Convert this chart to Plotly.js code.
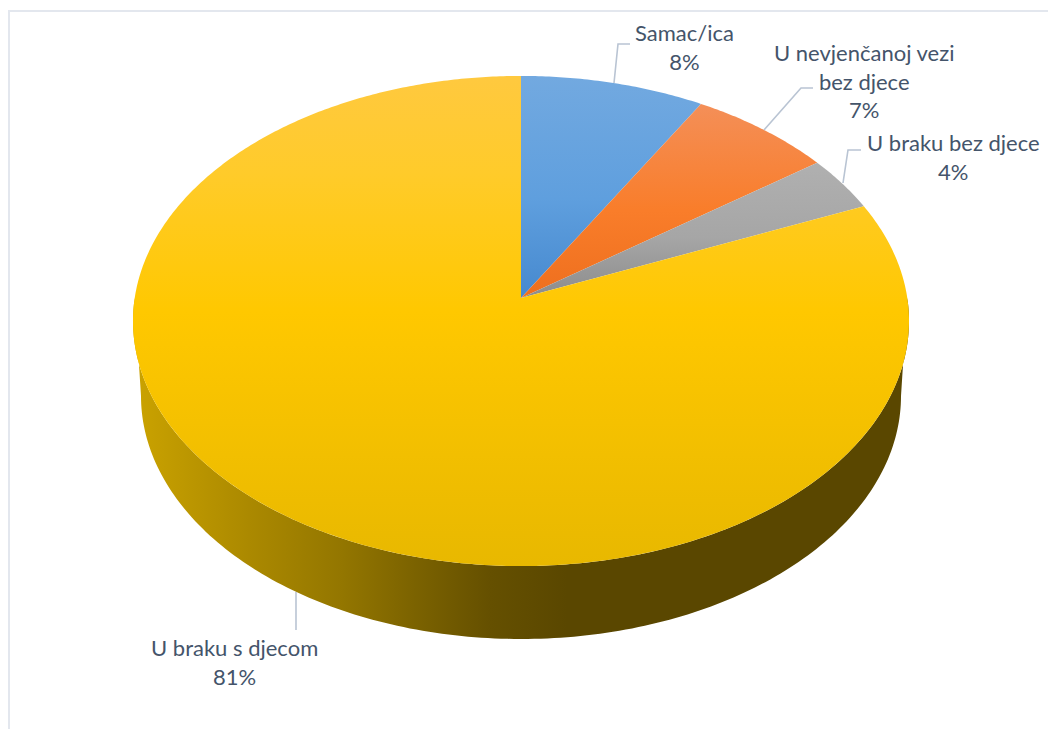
<!DOCTYPE html>
<html>
<head>
<meta charset="utf-8">
<script src="https://cdn.plot.ly/plotly-3.0.1.min.js"></script>
<style>html,body{margin:0;padding:0;background:#fff}#chart{width:1048px;height:729px}</style>
</head>
<body>
<div id="chart"></div>
<script>
const categories = ["Samac/ica", "U nevjenčanoj vezi<br>bez djece", "U braku bez djece", "U braku s djecom"];
const values = [8.4, 6.6, 3.6, 81.4];
const sliceTop = ["#72a9e0", "#f48f58", "#b0b0b0", "#ffc93f"];
const sliceMiddle = ["#5f9fde", "#f97d2a", "#a6a6a6", "#ffc800"];
const sliceBottom = ["#4689cf", "#ee6f1e", "#8c8c8c", "#e8b800"];
const labelX = [684, 864, 953, 234];
const labelY = [46.5, 81, 156.5, 661.5];
const leaders = [
  "M614,83 L618,44 L630,44",
  "M764,130 L801,88 L813,88",
  "M843,183 L848,150 L861,150",
  "M296,592 L296,630"
];

// Projection of the tilted disc onto the page
const apexX = 521, apexY = 298, scaleX = 386.3, scaleY = 242.9, persp = 0.0939;
const wallCx = 521, wallCy = 396, wallRx = 380, wallRy = 243;

function project(angle) {
  const u = Math.sin(angle), v = Math.cos(angle), w = 1 + persp * v;
  return [apexX + scaleX * u / w, apexY - scaleY * v / w];
}

const traces = [];

// Side wall: lower half of the top rim (right to left), then lower half of the base (left to right)
const wx = [], wy = [];
for (let d = -90; d <= 90; d += 1) {
  const p = project(Math.PI + d * Math.PI / 180);
  wx.push(p[0]); wy.push(p[1]);
}
for (let d = -90; d <= 90; d += 1) {
  const a = d * Math.PI / 180;
  wx.push(wallCx + wallRx * Math.sin(a));
  wy.push(wallCy + wallRy * Math.cos(a));
}
traces.push({
  type: "scatter", mode: "none", x: wx, y: wy, fill: "toself",
  fillgradient: {
    type: "horizontal", start: 133, stop: 909,
    colorscale: [[0, "#cba300"], [0.15, "#ab8900"], [0.27, "#937600"], [0.36, "#7c6300"], [0.46, "#655000"], [0.56, "#5a4700"], [1, "#5a4700"]]
  },
  hoverinfo: "skip"
});

// Top face slices, sweep taken from the values
const total = values.reduce((a, b) => a + b, 0);
let cum = 0;
values.forEach((val, i) => {
  const a0 = cum / total * 2 * Math.PI;
  cum += val;
  const a1 = cum / total * 2 * Math.PI;
  const xs = [apexX], ys = [apexY];
  const n = Math.max(4, Math.ceil((a1 - a0) / 0.01));
  for (let k = 0; k <= n; k++) {
    const p = project(a0 + (a1 - a0) * k / n);
    xs.push(p[0]); ys.push(p[1]);
  }
  xs.push(apexX); ys.push(apexY);
  // the y axis runs downward, so position 0 of the scale is the bottom of the slice on the page
  const stops = i === 3
    ? [[0, sliceBottom[i]], [0.52, sliceMiddle[i]], [0.8, "#ffcb2a"], [1, sliceTop[i]]]
    : [[0, sliceBottom[i]], [0.45, sliceMiddle[i]], [1, sliceTop[i]]];
  traces.push({
    type: "scatter", mode: "none", x: xs, y: ys, fill: "toself",
    fillgradient: { type: "vertical", colorscale: stops },
    hoverinfo: "skip"
  });
});

const annotations = categories.map((c, i) => ({
  x: labelX[i], y: labelY[i], xref: "x", yref: "y",
  xanchor: "center", yanchor: "middle", align: "center", showarrow: false,
  text: c + "<br>" + Math.round(values[i] / total * 100) + "%",
  font: { family: "Lato, 'Open Sans', sans-serif", size: 22, color: "#44546a" }
}));

const shapes = leaders.map(p => ({
  type: "path", path: p, xref: "x", yref: "y", line: { color: "#b9c4d3", width: 1.6 }
}));
shapes.push({ type: "path", path: "M9,729 L9,11 L1048,11", xref: "x", yref: "y", line: { color: "#e3e7ee", width: 2 } });

Plotly.newPlot("chart", traces, {
  width: 1048, height: 729, margin: { l: 0, r: 0, t: 0, b: 0 },
  paper_bgcolor: "#ffffff", plot_bgcolor: "#ffffff", showlegend: false,
  xaxis: { range: [0, 1048], visible: false, fixedrange: true },
  yaxis: { range: [729, 0], visible: false, fixedrange: true },
  annotations, shapes
}, { displayModeBar: false, staticPlot: true });
</script>
</body>
</html>
